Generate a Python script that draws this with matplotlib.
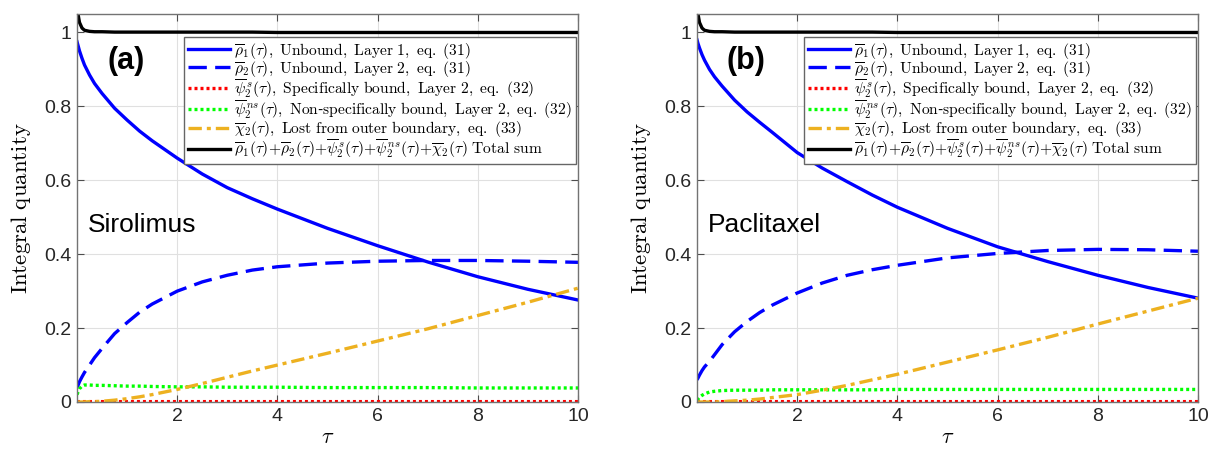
import matplotlib
matplotlib.use("Agg")
import matplotlib.pyplot as plt
import numpy as np

plt.rcParams['mathtext.fontset'] = 'cm'
plt.rcParams['font.family'] = ['Liberation Sans', 'DejaVu Sans']

# sample times (tau)
tau = [0, 0.02, 0.05, 0.1, 0.15, 0.25, 0.35, 0.5, 0.75, 1, 1.25, 1.5,
       2, 2.5, 3, 3.5, 4, 5, 6, 7, 8, 9, 10]

# (a) Sirolimus
siro_rho1 = [0.975, 0.965, 0.95, 0.93, 0.912, 0.885, 0.862, 0.835, 0.795, 0.763, 0.733, 0.707,
             0.66, 0.617, 0.58, 0.55, 0.522, 0.47, 0.423, 0.379, 0.339, 0.305, 0.276]
siro_rho2 = [0.04, 0.045, 0.055, 0.068, 0.08, 0.1, 0.12, 0.145, 0.185, 0.215, 0.243, 0.265,
             0.30, 0.325, 0.343, 0.357, 0.366, 0.376, 0.381, 0.383, 0.383, 0.381, 0.378]
siro_psi_s = [0, 0.001, 0.001, 0.001, 0.001, 0.001, 0.001, 0.001, 0.001, 0.001, 0.001, 0.001,
              0.001, 0.001, 0.001, 0.001, 0.001, 0.001, 0.001, 0.001, 0.001, 0.001, 0.001]
siro_psi_ns = [0.02, 0.027, 0.036, 0.043, 0.046, 0.046, 0.045, 0.045, 0.044, 0.043, 0.043, 0.042,
               0.041, 0.041, 0.040, 0.040, 0.040, 0.039, 0.039, 0.039, 0.038, 0.038, 0.038]
siro_chi = [0, 0, 0, 0, 0, 0.001, 0.001, 0.002, 0.005, 0.009, 0.014, 0.02,
            0.034, 0.05, 0.067, 0.084, 0.10, 0.132, 0.165, 0.198, 0.234, 0.27, 0.308]
siro_total = [1.08, 1.05, 1.027, 1.012, 1.006, 1.003, 1.002, 1.002, 1.001, 1.001, 1.001, 1.001,
              1.001, 1.001, 1.001, 1.001, 1.0, 1.0, 1.0, 1.0, 1.0, 1.0, 1.0]

# (b) Paclitaxel
pacl_rho1 = [0.98, 0.97, 0.958, 0.94, 0.925, 0.90, 0.88, 0.855, 0.817, 0.785, 0.757, 0.73,
             0.675, 0.633, 0.596, 0.56, 0.527, 0.47, 0.42, 0.38, 0.343, 0.31, 0.281]
pacl_rho2 = [0.06, 0.065, 0.073, 0.085, 0.095, 0.11, 0.128, 0.155, 0.19, 0.218, 0.242, 0.262,
             0.295, 0.322, 0.343, 0.358, 0.37, 0.39, 0.402, 0.41, 0.413, 0.412, 0.408]
pacl_psi_s = [0, 0.001, 0.001, 0.001, 0.001, 0.001, 0.001, 0.001, 0.001, 0.001, 0.001, 0.001,
              0.001, 0.001, 0.001, 0.001, 0.001, 0.001, 0.001, 0.001, 0.001, 0.001, 0.001]
pacl_psi_ns = [0.005, 0.008, 0.013, 0.018, 0.022, 0.027, 0.029, 0.031, 0.032, 0.032, 0.032, 0.033,
               0.033, 0.033, 0.033, 0.033, 0.034, 0.034, 0.034, 0.034, 0.034, 0.034, 0.034]
pacl_chi = [0, 0, 0, 0, 0, 0, 0, 0.001, 0.003, 0.005, 0.008, 0.012,
            0.02, 0.032, 0.045, 0.06, 0.075, 0.108, 0.141, 0.175, 0.211, 0.246, 0.281]
pacl_total = [1.08, 1.05, 1.027, 1.012, 1.006, 1.003, 1.002, 1.002, 1.001, 1.001, 1.001, 1.001,
              1.001, 1.001, 1.001, 1.001, 1.0, 1.0, 1.0, 1.0, 1.0, 1.0, 1.0]

labels = [
    r'$\overline{\rho}_1(\tau)\mathrm{,\ Unbound,\ Layer\ 1,\ eq.\ (31)}$',
    r'$\overline{\rho}_2(\tau)\mathrm{,\ Unbound,\ Layer\ 2,\ eq.\ (31)}$',
    r'$\overline{\psi}_2^{\,s}(\tau)\mathrm{,\ Specifically\ bound,\ Layer\ 2,\ eq.\ (32)}$',
    r'$\overline{\psi}_2^{\,ns}(\tau)\mathrm{,\ Non}$-$\mathrm{specifically\ bound,\ Layer\ 2,\ eq.\ (32)}$',
    r'$\overline{\chi}_2(\tau)\mathrm{,\ Lost\ from\ outer\ boundary,\ eq.\ (33)}$',
    r'$\overline{\rho}_1(\tau){+}\overline{\rho}_2(\tau){+}\overline{\psi}_2^{\,s}(\tau){+}'
    r'\overline{\psi}_2^{\,ns}(\tau){+}\overline{\chi}_2(\tau)\ \mathrm{Total\ sum}$',
]

W, H = 1211, 455
fig = plt.figure(figsize=(W / 100, H / 100), dpi=100)


def panel(left_px, series, tag, drug):
    ax = fig.add_axes([left_px / W, (H - 402) / H, 501 / W, 388 / H])
    rho1, rho2, psi_s, psi_ns, chi, total = series
    ax.plot(tau, rho1, color='#0000ff', lw=2.4, label=labels[0])
    ax.plot(tau, rho2, color='#0000ff', lw=2.4, ls=(0, (5.5, 2.5)), label=labels[1])
    ax.plot(tau, psi_s, color='#ff0000', lw=2.4, ls=(0, (0.9, 0.9)), label=labels[2])
    ax.plot(tau, psi_ns, color='#00ff00', lw=2.4, ls=(0, (0.9, 0.9)), label=labels[3])
    ax.plot(tau, chi, color='#edb120', lw=2.4, ls=(0, (4, 1.5, 1.2, 1.5)), label=labels[4])
    ax.plot(tau, total, color='black', lw=2.4, label=labels[5])

    ax.set_xlim(0, 10)
    ax.set_ylim(0, 1.05)
    ax.set_xticks([2, 4, 6, 8, 10])
    ax.set_yticks([0, 0.2, 0.4, 0.6, 0.8, 1])
    ax.set_yticklabels(['0', '0.2', '0.4', '0.6', '0.8', '1'])
    ax.grid(True, color='0.88', lw=0.8)
    ax.tick_params(direction='in', length=5, color='0.3', labelsize=14,
                   labelcolor='#262626', top=True, right=True, pad=4)
    for s in ax.spines.values():
        s.set_color('0.45')
        s.set_linewidth(1.0)
    ax.set_xlabel(r'$\tau$', fontsize=16, labelpad=2)
    ax.set_ylabel(r'$\mathrm{Integral\ quantity}$', fontsize=16.5, labelpad=8)

    ax.text(0.98, 0.924, tag, fontsize=22, fontweight='bold', ha='center', va='center')
    ax.text(0.22, 0.48, drug, fontsize=19, ha='left', va='center')

    leg = ax.legend(loc='upper right', bbox_to_anchor=(0.996, 0.941), borderaxespad=0,
                    fontsize=11.2, handlelength=2.7, handletextpad=0.3, labelspacing=-0.12,
                    borderpad=0.25, fancybox=False, framealpha=1, edgecolor='0.4')
    leg.get_frame().set_linewidth(1.0)
    return ax


panel(77, [siro_rho1, siro_rho2, siro_psi_s, siro_psi_ns, siro_chi, siro_total], '(a)', 'Sirolimus')
panel(697, [pacl_rho1, pacl_rho2, pacl_psi_s, pacl_psi_ns, pacl_chi, pacl_total], '(b)', 'Paclitaxel')

fig.savefig('out.png', dpi=100)
